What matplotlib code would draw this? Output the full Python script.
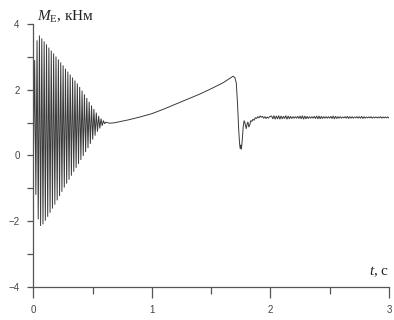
import numpy as np
import matplotlib
matplotlib.use("Agg")
import matplotlib.pyplot as plt
from matplotlib.ticker import MultipleLocator

# --- start-up transient: successive peaks and troughs of the torque (kN*m)
swing_period = 0.02  # s
start_peaks = [2.90, 3.50, 3.65, 3.56, 3.47, 3.38, 3.28, 3.19, 3.10, 3.01,
               2.92, 2.83, 2.74, 2.64, 2.55, 2.46, 2.37, 2.28, 2.19, 2.08,
               1.97, 1.86, 1.75, 1.63, 1.52, 1.41, 1.30, 1.20, 1.12, 1.06]
start_troughs = [-1.20, -1.95, -2.15, -2.10, -1.99, -1.87, -1.75, -1.62, -1.50, -1.37,
                 -1.24, -1.11, -0.98, -0.86, -0.74, -0.62, -0.50, -0.38, -0.26, -0.14,
                 -0.02, 0.10, 0.22, 0.35, 0.48, 0.60, 0.72, 0.82, 0.90, 0.96]

# --- run-up, load step and recovery
ramp_t = [0.61, 0.64, 0.68, 0.72, 0.80, 0.90, 1.00, 1.10, 1.20, 1.30, 1.40,
          1.50, 1.60, 1.66, 1.685, 1.70, 1.712, 1.722, 1.732, 1.740, 1.745,
          1.750, 1.755, 1.763, 1.770, 1.778, 1.784, 1.790, 1.796, 1.803,
          1.810, 1.818, 1.826, 1.834, 1.843, 1.853, 1.863, 1.873, 1.883,
          1.893, 1.903, 1.913, 1.923, 1.933, 1.943, 1.953, 1.963, 1.973,
          1.983, 1.993]
ramp_m = [1.01, 0.98, 0.99, 1.02, 1.08, 1.17, 1.27, 1.41, 1.56, 1.71, 1.86,
          2.03, 2.21, 2.35, 2.41, 2.37, 2.20, 1.60, 0.80, 0.35, 0.20,
          0.32, 0.18, 0.50, 0.86, 1.06, 1.00, 0.90, 0.81, 0.95,
          1.02, 0.86, 0.93, 1.06, 1.03, 1.10, 1.07, 1.15, 1.12, 1.18,
          1.14, 1.20, 1.16, 1.19, 1.13, 1.18, 1.12, 1.17, 1.13, 1.18]

# --- steady state ripple (highs and lows per 0.02 s)
steady_hi = [1.20, 1.21, 1.20, 1.21, 1.20, 1.19, 1.21, 1.20, 1.19, 1.18,
             1.18, 1.19, 1.20, 1.21, 1.20, 1.19, 1.18, 1.18, 1.19, 1.20,
             1.20, 1.19, 1.18, 1.18, 1.18, 1.19, 1.20, 1.19, 1.18, 1.18,
             1.17, 1.18, 1.19, 1.18, 1.18, 1.17, 1.18, 1.18, 1.19, 1.18,
             1.17, 1.17, 1.18, 1.17, 1.17, 1.17, 1.18, 1.17, 1.17, 1.17]
steady_lo = [1.11, 1.10, 1.11, 1.10, 1.11, 1.12, 1.10, 1.11, 1.12, 1.13,
             1.13, 1.12, 1.11, 1.10, 1.11, 1.12, 1.13, 1.13, 1.12, 1.11,
             1.11, 1.12, 1.13, 1.13, 1.13, 1.12, 1.11, 1.12, 1.13, 1.13,
             1.14, 1.13, 1.12, 1.13, 1.13, 1.14, 1.13, 1.13, 1.12, 1.13,
             1.14, 1.14, 1.13, 1.14, 1.14, 1.14, 1.13, 1.14, 1.14, 1.14]

x_ticks = [0, 1, 2, 3]
y_ticks = [-4, -2, 0, 2, 4]

# assemble the trace
t_parts, m_parts = [[0.0]], [[0.0]]
for k, (hi, lo) in enumerate(zip(start_peaks, start_troughs)):
    t0 = k * swing_period
    t_parts.append([t0 + 0.5 * swing_period, t0 + swing_period])
    m_parts.append([hi, lo])
t_parts.append(ramp_t)
m_parts.append(ramp_m)
for k, (hi, lo) in enumerate(zip(steady_hi, steady_lo)):
    t0 = 2.0 + k * swing_period
    t_parts.append([t0 + 0.5 * swing_period, t0 + swing_period])
    m_parts.append([hi, lo])
t = np.concatenate([np.asarray(p, float) for p in t_parts])
m = np.concatenate([np.asarray(p, float) for p in m_parts])

plt.rcParams["mathtext.fontset"] = "custom"
plt.rcParams["mathtext.rm"] = "Liberation Serif"
plt.rcParams["mathtext.it"] = "Liberation Serif:italic"

fig = plt.figure(figsize=(3.94, 3.20), dpi=100)
ax = fig.add_axes([0.085, 0.104, 0.902, 0.821])
ax.plot(t, m, color="#3a3a3a", lw=0.7, solid_joinstyle="miter")

ax.set_xlim(0, 3)
ax.set_ylim(-4, 4)
ax.set_xticks(x_ticks)
ax.set_yticks(y_ticks)
ax.xaxis.set_minor_locator(MultipleLocator(0.5))
ax.yaxis.set_minor_locator(MultipleLocator(1))
for s in ("top", "right"):
    ax.spines[s].set_visible(False)
for s in ("left", "bottom"):
    ax.spines[s].set_color("#555555")
    ax.spines[s].set_linewidth(0.9)

ax.tick_params(axis="x", which="major", direction="out", length=8, width=0.9,
               color="#555555", labelsize=7, labelcolor="#444444", pad=5)
ax.tick_params(axis="x", which="minor", direction="out", length=5, width=0.9,
               color="#555555")
ax.tick_params(axis="y", which="both", direction="out", length=4, width=0.9,
               color="#555555", labelsize=7, labelcolor="#444444", pad=6)
for lab in ax.get_xticklabels() + ax.get_yticklabels():
    lab.set_fontfamily("Liberation Sans")

ax.text(0.03, 4.22, r"$M_{\mathrm{Е}}$" + ", кНм", fontsize=11,
        family="Liberation Serif", color="#222222", ha="left", va="center")
ax.text(3.0, -3.55, r"$t$" + ", с", fontsize=11, family="Liberation Serif",
        color="#222222", ha="right", va="center")

fig.savefig("out.png", dpi=100)
